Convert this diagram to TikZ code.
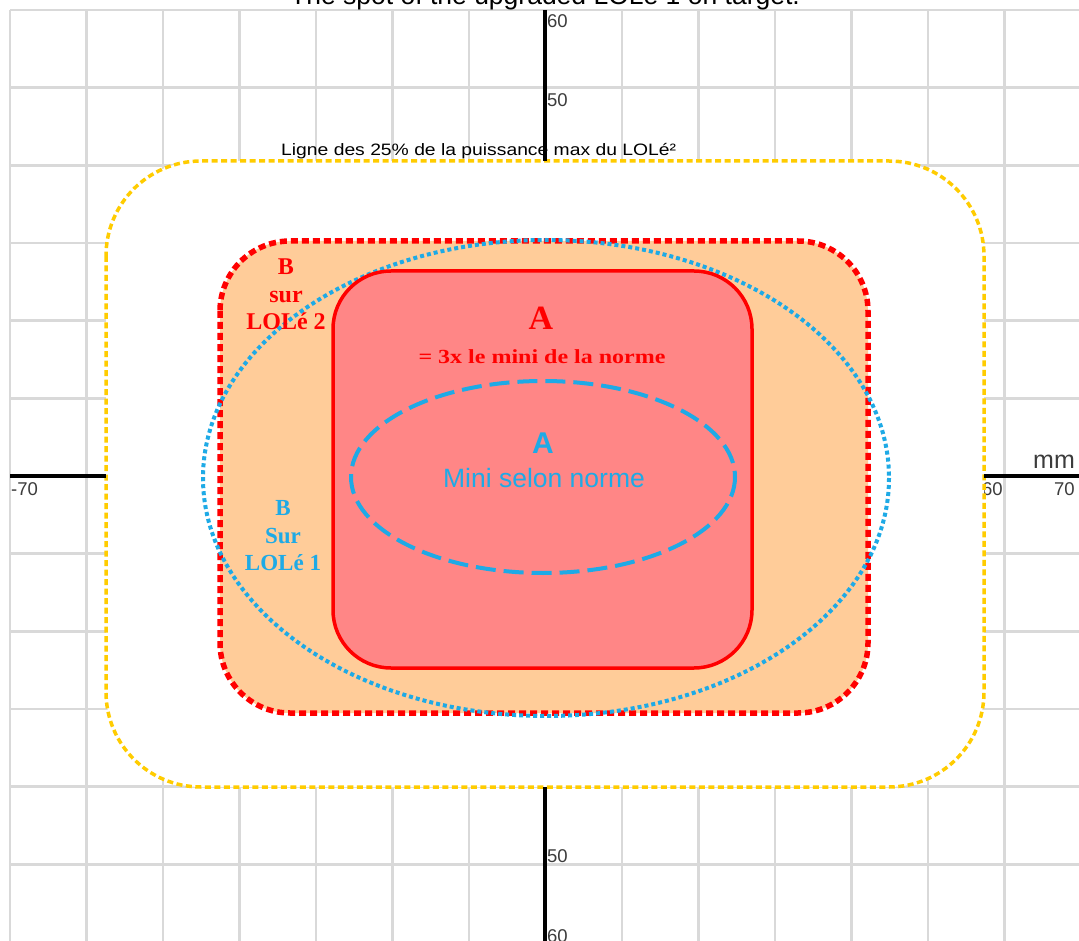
\documentclass[tikz,border=0pt]{standalone}
\usepackage{fontspec}
\setmainfont{Liberation Serif}
\setsansfont{Liberation Sans}
\definecolor{gridgray}{RGB}{217,217,217}
\definecolor{sunny}{RGB}{255,204,0}
\definecolor{peach}{RGB}{255,204,153}
\definecolor{salmon}{RGB}{255,134,134}
\definecolor{sky}{RGB}{30,170,230}
\definecolor{labgray}{RGB}{60,60,60}
\newcommand{\fs}[1]{\fontsize{#1}{#1}\selectfont}
\tikzset{
  gridline/.style={draw=gridgray, line width=2.5pt},
  axisline/.style={draw=black, line width=4pt},
  axlabel/.style={inner sep=0pt, anchor=base west, text=labgray, font=\sffamily\fs{18.5}},
  txt/.style={inner sep=0pt, anchor=base},
  yellowbox/.style={draw=sunny, fill=white, line width=3.5pt, dash pattern=on 6pt off 3.5pt, rounded corners=95pt},
  orangebox/.style={draw=red, fill=peach, line width=5.5pt, dash pattern=on 7pt off 4pt, rounded corners=70pt},
  redbox/.style={draw=red, fill=salmon, line width=3.5pt, rounded corners=58pt},
  bigell/.style={draw=sky, line width=4pt, dash pattern=on 4pt off 3pt},
  smallell/.style={draw=sky, line width=4pt, dash pattern=on 20pt off 8pt}
}
\begin{document}
\begin{tikzpicture}[x=1pt,y=-1pt]
\useasboundingbox (0,0) rectangle (1079,941);
\fill[white] (0,0) rectangle (1079,941);
% grid
\foreach \k in {0,...,14} \draw[gridline] ({10+76.5*\k},10) -- ({10+76.5*\k},941);
\foreach \k in {0,...,12} \draw[gridline] (10,{10+77.67*\k}) -- (1079,{10+77.67*\k});
% axis labels
\node[axlabel] (ly60) at (547,28) {60};
\node[axlabel] (ly50) at (547,107) {50};
\node[axlabel] (lyb50) at (547,862) {50};
\node[axlabel] (lyb60) at (547,942) {60};
\node[axlabel] (lxm70) at (11,495) {-70};
\node[axlabel] (lx60) at (982,495) {60};
\node[axlabel] (lx70) at (1054,495) {70};
\node[axlabel, font=\sffamily\fs{25}] (lmm) at (1033,468) {mm};
% yellow 25% line
\draw[yellowbox] (106,161) rectangle (984,787);
\node[inner sep=0pt, anchor=base west, font=\sffamily\fs{16.5}] (ligne) at (281,156) {\scalebox{1.17}[1]{Ligne des 25\% de la puissance max du LOLé²}};
% axes
\coordinate (vt) at (545,10);
\coordinate (vtb) at (545,161);
\coordinate (vb) at (545,787);
\coordinate (vbb) at (545,941);
\coordinate (hl) at (10,476);
\coordinate (hlb) at (106,476);
\coordinate (hr) at (984,476);
\coordinate (hrb) at (1079,476);
\draw[axisline] (vt) -- (vtb);
\draw[axisline] (vb) -- (vbb);
\draw[axisline] (hl) -- (hlb);
\draw[axisline] (hr) -- (hrb);
% zones
\draw[orangebox] (220,241) rectangle (868,713);
\draw[bigell] (546,478) ellipse [x radius=343, y radius=238];
\draw[redbox] (333,271) rectangle (752,668);
\draw[smallell] (543,477) ellipse [x radius=192, y radius=96];
% texts
\node[txt, text=red, font=\bfseries\fs{34}] (redA) at (541,330) {A};
\node[txt, text=red, font=\bfseries\fs{20}] (redAsub) at (542,363) {\scalebox{1.2}[1]{= 3x le mini de la norme}};
\node[txt, text=sky, font=\sffamily\bfseries\fs{30}] (blueA) at (543,453) {A};
\node[txt, text=sky, font=\sffamily\fs{26.5}] (blueAsub) at (544,487) {Mini selon norme};
\node[txt, text=red, font=\bfseries\fs{24}] (rb1) at (286,275) {B};
\node[txt, text=red, font=\bfseries\fs{24}] (rb2) at (286,303) {sur};
\node[txt, text=red, font=\bfseries\fs{24}] (rb3) at (286,330) {LOLé 2};
\node[txt, text=sky, font=\bfseries\fs{23}] (bb1) at (283,515) {B};
\node[txt, text=sky, font=\bfseries\fs{23}] (bb2) at (283,543) {Sur};
\node[txt, text=sky, font=\bfseries\fs{23}] (bb3) at (283,570) {LOLé 1};
% title (cut off at top, as in the reference)
\node[txt, font=\sffamily\fs{26.5}] (title) at (545,5) {The spot of the upgraded LOLé 1 on target.};
\end{tikzpicture}
\end{document}
